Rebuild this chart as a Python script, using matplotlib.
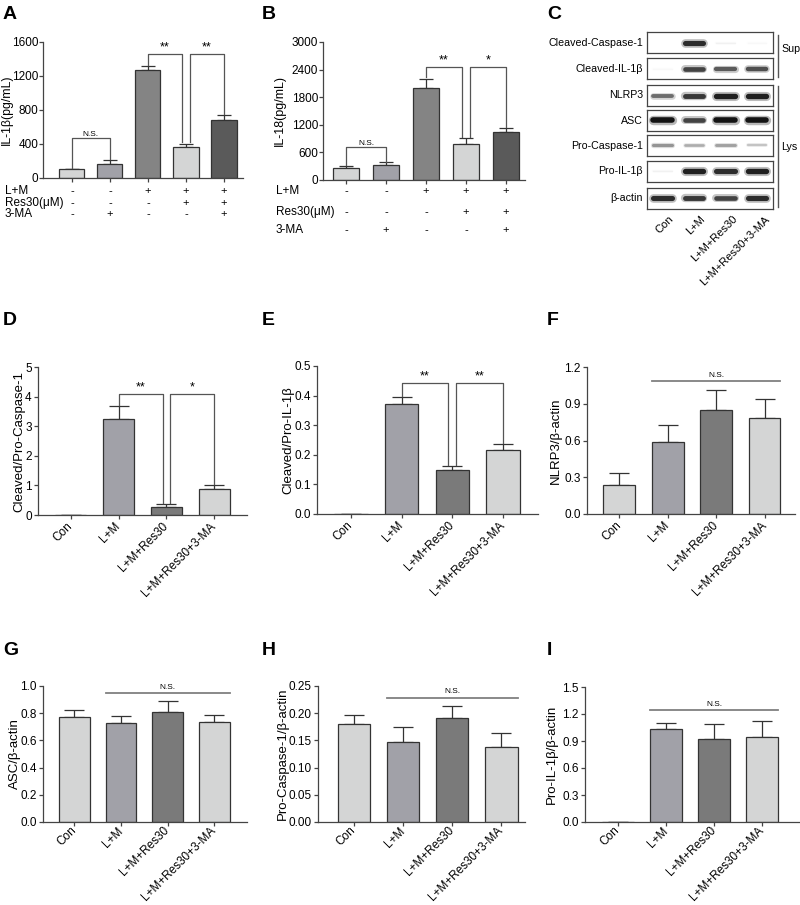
import numpy as np
import matplotlib
matplotlib.use("Agg")
import matplotlib.pyplot as plt
from matplotlib.ticker import FormatStrFormatter
from matplotlib.transforms import blended_transform_factory

plt.rcParams["font.family"] = ["Liberation Sans", "DejaVu Sans"]

W, H = 800, 905

# ---- data ----
groups4 = ["Con", "L+M", "L+M+Res30", "L+M+Res30+3-MA"]

# A: IL-1beta ELISA
il1b_mean = [100, 160, 1267, 365, 678]
il1b_err = [8, 55, 50, 40, 60]
# B: IL-18 ELISA
il18_mean = [250, 335, 2007, 776, 1050]
il18_err = [55, 50, 195, 144, 74]

row_names = ["L+M", "Res30(μM)", "3-MA"]
row_lm = ["-", "-", "+", "+", "+"]
row_res = ["-", "-", "-", "+", "+"]
row_3ma = ["-", "+", "-", "-", "+"]

# C: western blot (relative band intensity per lane)
blot_rows = ["Cleaved-Caspase-1", "Cleaved-IL-1β", "NLRP3", "ASC",
             "Pro-Caspase-1", "Pro-IL-1β", "β-actin"]
blot_bands = [
    [0.0, 0.9, 0.06, 0.03],
    [0.03, 0.8, 0.7, 0.75],
    [0.62, 0.85, 0.95, 0.95],
    [1.0, 0.8, 1.0, 1.0],
    [0.45, 0.35, 0.4, 0.25],
    [0.06, 0.95, 0.9, 0.95],
    [0.9, 0.85, 0.8, 0.9],
]

# D-I: quantification
casp_ratio = [0, 3.26, 0.28, 0.89]
casp_ratio_err = [0, 0.41, 0.09, 0.12]
il1b_ratio = [0, 0.372, 0.147, 0.216]
il1b_ratio_err = [0, 0.024, 0.014, 0.02]
nlrp3 = [0.236, 0.587, 0.848, 0.783]
nlrp3_err = [0.095, 0.141, 0.168, 0.157]
asc = [0.769, 0.728, 0.81, 0.733]
asc_err = [0.056, 0.048, 0.082, 0.053]
pro_casp = [0.1795, 0.147, 0.191, 0.137]
pro_casp_err = [0.018, 0.027, 0.023, 0.026]
pro_il1b = [0, 1.032, 0.922, 0.94]
pro_il1b_err = [0, 0.064, 0.163, 0.181]

light = "#d4d5d5"
medium = "#a1a1a8"
dark = "#7a7a7a"
darker = "#5a5a5a"
mid2 = "#848484"
edge = "#333333"

fig = plt.figure(figsize=(W / 100, H / 100), dpi=100)


def add_ax(x0, y0, x1, y1):
    return fig.add_axes([x0 / W, 1 - y1 / H, (x1 - x0) / W, (y1 - y0) / H])


def bar_panel(ax, means, errs, colors, xlim, ylim, yticks, fmt, ylabel,
              ylab_px, capsize=7, labels=None, ylabel_fs=9.5, label_fs=9,
              xpad=4, ypad=1.5):
    x = np.arange(len(means))
    ax.bar(x, means, 0.66, color=colors, edgecolor=edge, linewidth=0.9,
           zorder=2)
    ax.errorbar(x, means, yerr=[np.zeros(len(errs)), errs], fmt="none",
                ecolor=edge, elinewidth=0.9, capsize=capsize, capthick=0.9,
                zorder=1)
    ax.set_xlim(*xlim)
    ax.set_ylim(*ylim)
    ax.set_yticks(yticks)
    ax.yaxis.set_major_formatter(FormatStrFormatter(fmt))
    ax.set_xticks(x)
    if labels is None:
        ax.set_xticklabels([])
    else:
        ax.set_xticklabels(labels, rotation=45, ha="right", va="center",
                           rotation_mode="anchor", fontsize=label_fs)
    for s in ["top", "right"]:
        ax.spines[s].set_visible(False)
    for s in ["left", "bottom"]:
        ax.spines[s].set_linewidth(0.9)
        ax.spines[s].set_color("#444444")
    ax.tick_params(direction="out", length=3, width=0.9, labelsize=8.5,
                   color="#444444")
    ax.tick_params(axis="x", pad=xpad)
    ax.tick_params(axis="y", pad=ypad)
    ax.set_ylabel(ylabel, fontsize=ylabel_fs)
    ax.yaxis.label.set_verticalalignment("center")
    # place the y label centre at a given figure pixel column
    bb = ax.get_position()
    ax.yaxis.set_label_coords((ylab_px / W - bb.x0) / bb.width, 0.5)


def bracket(ax, xa, xb, y, ya, yb, text, fs=9):
    ax.plot([xa, xa, xb, xb], [ya, y, y, yb], color="#555555", lw=0.9,
            clip_on=False)
    ax.text((xa + xb) / 2, y, text, ha="center", va="bottom", fontsize=fs)


def ns_line(ax, y, text="N.S."):
    ax.plot([0.67, 3.33], [y, y], color="#808080", lw=1.3, clip_on=False)
    ax.text(2, y * 1.02, text, ha="center", va="bottom", fontsize=6)


def panel_label(x, y, s):
    fig.text(x / W, 1 - y / H, s, fontsize=14, fontweight="bold",
             va="top", ha="left")


def table(ax, ys, xname):
    tr = blended_transform_factory(ax.transData, fig.transFigure)
    rows = [row_lm, row_res, row_3ma]
    for name, signs, yy in zip(row_names, rows, ys):
        fig.text(xname / W, 1 - yy / H, name, fontsize=8.5, va="center")
        for i, s in enumerate(signs):
            ax.text(i, 1 - yy / H, s, transform=tr, ha="center",
                    va="center", fontsize=8)


# ---- A ----
axA = add_ax(43, 42, 243, 178)
bar_panel(axA, il1b_mean, il1b_err, [light, medium, mid2, light, darker],
          (-0.76, 4.5), (0, 1600), [0, 400, 800, 1200, 1600], "%d",
          "IL-1β(pg/mL)", 7, capsize=5, ylabel_fs=8.8, ypad=0.5)
bracket(axA, 0, 1, 470, 120, 225, "N.S.", fs=6)
bracket(axA, 2, 2.9, 1460, 1335, 420, "**")
bracket(axA, 3.1, 4, 1460, 420, 755, "**")
table(axA, [191, 203, 214], 5)

# ---- B ----
axB = add_ax(323, 42, 525, 180)
bar_panel(axB, il18_mean, il18_err, [light, medium, mid2, light, darker],
          (-0.575, 4.475), (0, 3000), [0, 600, 1200, 1800, 2400, 3000], "%d",
          "IL-18(pg/mL)", 280, capsize=5, ylabel_fs=9, ypad=0.5)
bracket(axB, 0, 1, 726, 320, 400, "N.S.", fs=6)
bracket(axB, 2, 2.9, 2465, 2230, 940, "**")
bracket(axB, 3.1, 4, 2465, 940, 1145, "*")
table(axB, [191, 212, 230], 276)

# ---- C: blot ----
row_tops = [32.3, 58.3, 85, 110, 135, 161, 187.7]
for name, bands, top in zip(blot_rows, blot_bands, row_tops):
    ax = add_ax(646.7, top, 772.7, top + 21)
    ax.set_xlim(0, 4)
    ax.set_ylim(0, 1)
    ax.set_xticks([])
    ax.set_yticks([])
    for s in ax.spines.values():
        s.set_linewidth(0.9)
        s.set_color("#444444")
    for k, v in enumerate(bands):
        if v <= 0:
            continue
        g = 1 - 0.92 * v
        lw = 0.8 + 3.2 * v
        c = k + 0.5
        ax.plot([c - 0.3, c + 0.3], [0.5, 0.5], lw=lw * 1.7,
                color=str(g), alpha=0.3, solid_capstyle="round")
        ax.plot([c - 0.3, c + 0.3], [0.5, 0.5], lw=lw,
                color=str(g), solid_capstyle="round")
    fig.text(643 / W, 1 - (top + 10.5) / H, name, ha="right", va="center",
             fontsize=7.7)

lane_x = [662, 694, 726, 758]
for lx, lab in zip(lane_x, groups4):
    fig.text((lx + 6) / W, 1 - 214 / H, lab, rotation=45, ha="right",
             va="top", rotation_mode="anchor", fontsize=8)

fig.add_artist(plt.Line2D([777.7 / W] * 2, [1 - 35 / H, 1 - 76.7 / H],
                          color="#555555", lw=1))
fig.add_artist(plt.Line2D([777.7 / W] * 2, [1 - 85.7 / H, 1 - 206.7 / H],
                          color="#555555", lw=1))
fig.text(781 / W, 1 - 49 / H, "Sup", fontsize=7.7, va="center")
fig.text(781 / W, 1 - 146.7 / H, "Lys", fontsize=7.7, va="center")

# ---- D ----
axD = add_ax(38, 367, 247, 515)
bar_panel(axD, casp_ratio, casp_ratio_err, [light, medium, dark, light],
          (-0.68, 3.68), (0, 5), [0, 1, 2, 3, 4, 5], "%d",
          "Cleaved/Pro-Caspase-1", 19, labels=groups4)
bracket(axD, 1, 1.92, 4.09, 3.72, 0.4, "**")
bracket(axD, 2.08, 3, 4.09, 0.4, 1.05, "*")

# ---- E ----
axE = add_ax(317, 366, 538, 514)
bar_panel(axE, il1b_ratio, il1b_ratio_err, [light, medium, dark, light],
          (-0.67, 3.69), (0, 0.5), [0, 0.1, 0.2, 0.3, 0.4, 0.5], "%.1f",
          "Cleaved/Pro-IL-1β", 288, labels=groups4)
bracket(axE, 1, 1.92, 0.444, 0.4, 0.165, "**")
bracket(axE, 2.08, 3, 0.444, 0.165, 0.24, "**")

# ---- F ----
axF = add_ax(587, 367, 795, 514)
bar_panel(axF, nlrp3, nlrp3_err, [light, medium, dark, light],
          (-0.67, 3.63), (0, 1.2), [0, 0.3, 0.6, 0.9, 1.2], "%.1f",
          "NLRP3/β-actin", 556, labels=groups4, label_fs=8.5)
ns_line(axF, 1.084)

# ---- G ----
axG = add_ax(43, 686, 247, 822)
bar_panel(axG, asc, asc_err, [light, medium, dark, light],
          (-0.67, 3.7), (0, 1.0), [0, 0.2, 0.4, 0.6, 0.8, 1.0], "%.1f",
          "ASC/β-actin", 15, labels=groups4, label_fs=7.1, xpad=2)
ns_line(axG, 0.945)

# ---- H ----
axH = add_ax(318, 686, 525, 822)
bar_panel(axH, pro_casp, pro_casp_err, [light, medium, dark, light],
          (-0.73, 3.48), (0, 0.25), [0, 0.05, 0.10, 0.15, 0.20, 0.25],
          "%.2f", "Pro-Caspase-1/β-actin", 283, labels=groups4,
          label_fs=7.1, xpad=2)
ns_line(axH, 0.228)

# ---- I ----
axI = add_ax(585, 687, 800, 822)
bar_panel(axI, pro_il1b, pro_il1b_err, [light, medium, dark, light],
          (-0.68, 3.78), (0, 1.5), [0, 0.3, 0.6, 0.9, 1.2, 1.5], "%.1f",
          "Pro-IL-1β/β-actin", 552, labels=groups4, label_fs=7.1, xpad=2)
ns_line(axI, 1.242)

# panel letters
panel_label(3, 6, "A")
panel_label(262, 6, "B")
panel_label(547, 6, "C")
panel_label(3, 312, "D")
panel_label(262, 312, "E")
panel_label(547, 312, "F")
panel_label(3, 642, "G")
panel_label(262, 642, "H")
panel_label(547, 642, "I")

fig.savefig("out.png", dpi=100)
